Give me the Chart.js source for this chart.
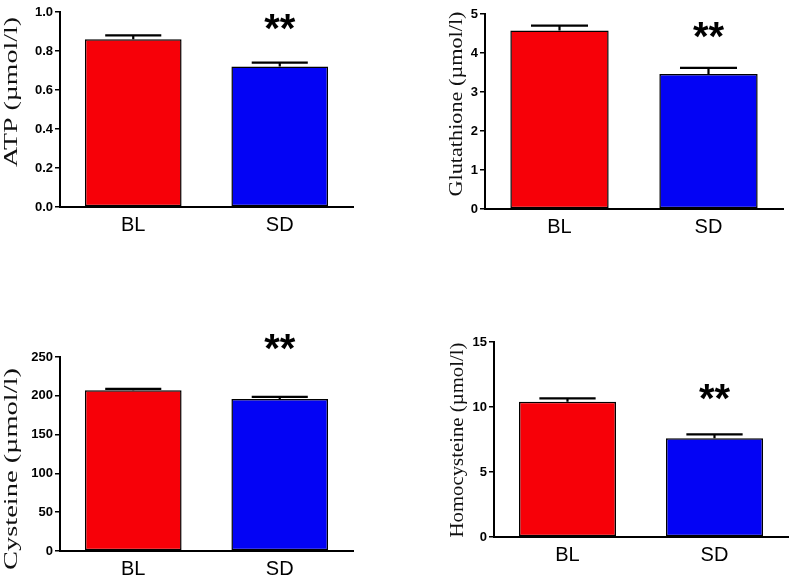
<!DOCTYPE html>
<html>
<head>
<meta charset="utf-8">
<script src="https://cdn.jsdelivr.net/npm/chart.js@4/dist/chart.umd.min.js"></script>
<style>
  body { margin: 0; background: #fff; }
  #wrap { position: relative; width: 794px; height: 582px; overflow: hidden; }
  canvas { position: absolute; }
</style>
</head>
<body>
<div id="wrap">
  <canvas id="atp" width="360" height="245" style="left:0px;top:0px"></canvas>
  <canvas id="gsh" width="394" height="245" style="left:400px;top:0px"></canvas>
  <canvas id="cys" width="360" height="282" style="left:0px;top:300px"></canvas>
  <canvas id="hcy" width="394" height="282" style="left:400px;top:300px"></canvas>
</div>
<script>
var groups = ["BL", "SD"]
var barColors = ["#f70008", "#0303f5"]

// mean and SEM
var atpMean = [0.86, 0.72]
var atpSem = [0.02, 0.02]
var gshMean = [4.58, 3.46]
var gshSem = [0.12, 0.16]
var cysMean = [207, 196]
var cysSem = [2, 2.5]
var hcyMean = [10.4, 7.6]
var hcySem = [0.27, 0.3]

// y axis: max, step, decimals
var atpAxis = [1.0, 0.2, 1]
var gshAxis = [5, 1, 0]
var cysAxis = [250, 50, 0]
var hcyAxis = [15, 5, 0]

// where the "**" sits, in axis units
var atpStars = 0.95
var gshStars = 4.6
var cysStars = 269
var hcyStars = 11.15

// upper error bar + significance stars + stretched serif y title
var extras = {
  id: "extras",
  afterDatasetsDraw: function(chart, args, opts) {
    var ctx = chart.ctx
    var y = chart.scales.y
    var meta = chart.getDatasetMeta(0)
    var ds = chart.data.datasets[0]
    ctx.save()
    ctx.strokeStyle = "#000"
    ctx.lineWidth = 2.2
    meta.data.forEach(function(bar, i) {
      var top = y.getPixelForValue(ds.data[i] + opts.sem[i])
      var half = bar.width * 0.29
      ctx.beginPath()
      ctx.moveTo(bar.x, bar.y)
      ctx.lineTo(bar.x, top)
      ctx.moveTo(bar.x - half, top)
      ctx.lineTo(bar.x + half, top)
      ctx.stroke()
    })
    // stars over SD
    var sd = meta.data[1]
    ctx.fillStyle = "#000"
    ctx.font = "bold 40px 'Liberation Sans', Arial, sans-serif"
    ctx.textAlign = "center"
    ctx.textBaseline = "alphabetic"
    var m = ctx.measureText("**")
    var sy = y.getPixelForValue(opts.stars)
    ctx.fillText("**", sd.x, sy + (m.actualBoundingBoxAscent - m.actualBoundingBoxDescent) / 2)
    // y title
    ctx.font = "19px 'Liberation Serif', 'Times New Roman', serif"
    ctx.fillStyle = "#111"
    var w = ctx.measureText(opts.title).width
    ctx.translate(opts.titleX, opts.titleY)
    ctx.rotate(-Math.PI / 2)
    ctx.scale(opts.titleLen / w, 1)
    ctx.textBaseline = "middle"
    ctx.fillText(opts.title, 0, 0)
    ctx.restore()
  }
}

function barPanel(id, mean, sem, axis, stars, title, box) {
  new Chart(id, {
    type: "bar",
    data: {
      labels: groups,
      datasets: [
        {
          data: mean,
          backgroundColor: barColors,
          borderColor: "#000",
          borderWidth: 1.5,
          borderSkipped: false,
          barPercentage: 0.66,
          categoryPercentage: 1,
        },
      ],
    },
    options: {
      responsive: false,
      animation: false,
      layout: {
        padding: { top: box.top, right: box.right, left: 0, bottom: 0 },
      },
      plugins: {
        legend: false,
        tooltip: { enabled: false },
        extras: {
          sem: sem,
          stars: stars,
          title: title,
          titleX: box.titleX,
          titleY: box.titleY,
          titleLen: box.titleLen,
        },
      },
      scales: {
        x: {
          grid: { display: false, drawTicks: false },
          border: { display: true, color: "#000", width: 2 },
          ticks: {
            color: "#000",
            padding: 6,
            font: { family: "'Liberation Sans', Arial, sans-serif", size: 20 },
          },
          afterFit: function(s) { s.height = box.h - box.bottom },
        },
        y: {
          min: 0,
          max: axis[0],
          ticks: {
            stepSize: axis[1],
            callback: function(v) { return v.toFixed(axis[2]) },
            color: "#000",
            padding: 2,
            font: { family: "'Liberation Sans', Arial, sans-serif", size: 13, weight: "bold" },
          },
          grid: {
            drawOnChartArea: false,
            drawTicks: true,
            tickLength: 5,
            color: "#000",
            lineWidth: 1.5,
          },
          border: { display: true, color: "#000", width: 2 },
          afterFit: function(s) { s.width = box.left },
        },
      },
    },
    plugins: [extras],
  })
}

barPanel("atp", atpMean, atpSem, atpAxis, atpStars, "ATP (\u00b5mol/l)",
  { h: 245, left: 60, top: 12, right: 7, bottom: 207, titleX: 12, titleY: 92, titleLen: 150 })
barPanel("gsh", gshMean, gshSem, gshAxis, gshStars, "Glutathione (\u00b5mol/l)",
  { h: 245, left: 85, top: 14, right: 11, bottom: 209, titleX: 57, titleY: 104, titleLen: 185 })
barPanel("cys", cysMean, cysSem, cysAxis, cysStars, "Cysteine (\u00b5mol/l)",
  { h: 282, left: 60, top: 57, right: 7, bottom: 251, titleX: 12, titleY: 169, titleLen: 202 })
barPanel("hcy", hcyMean, hcySem, hcyAxis, hcyStars, "Homocysteine (\u00b5mol/l)",
  { h: 282, left: 94, top: 42, right: 6, bottom: 237, titleX: 58, titleY: 140, titleLen: 195 })
</script>
</body>
</html>
